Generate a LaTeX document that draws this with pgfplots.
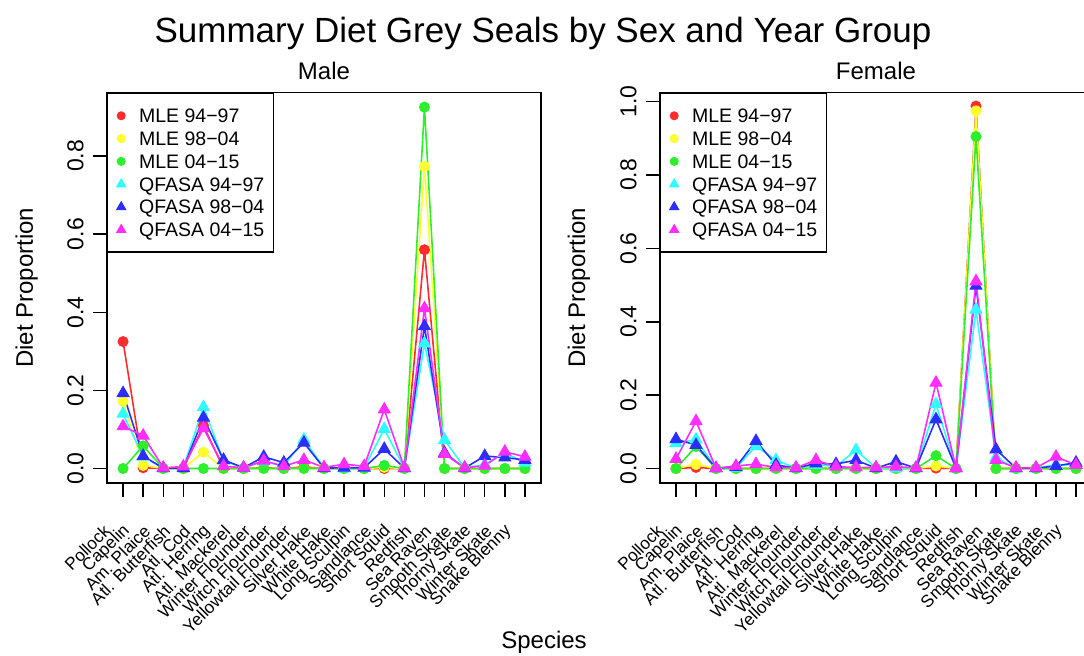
\documentclass[border=0pt]{standalone}
\usepackage{pgfplots}
\pgfplotsset{compat=1.18}
\usepackage{pgfplotstable}
\usepackage{fontspec}
\setmainfont{Liberation Sans}

\definecolor{cRed}{RGB}{255,45,45}
\definecolor{cYel}{RGB}{255,255,45}
\definecolor{cGrn}{RGB}{45,240,45}
\definecolor{cCya}{RGB}{45,255,255}
\definecolor{cBlu}{RGB}{45,45,255}
\definecolor{cMag}{RGB}{255,45,255}

% Diet proportions per prey species (x = species index)
% m1..m3: MLE 94-97, 98-04, 04-15; q1..q3: QFASA 94-97, 98-04, 04-15
\pgfplotstableread{
x  m1    m2    m3    q1    q2    q3
0  0.325 0.172 0.000 0.140 0.193 0.108
1  0.002 0.008 0.058 0.030 0.032 0.084
2  0.000 0.000 0.000 0.001 0.001 0.002
3  0.000 0.000 0.000 0.002 0.001 0.005
4  0.110 0.042 0.000 0.157 0.130 0.103
5  0.000 0.000 0.000 0.020 0.022 0.006
6  0.000 0.000 0.000 0.002 0.002 0.002
7  0.002 0.000 0.000 0.018 0.030 0.020
8  0.000 0.000 0.000 0.006 0.015 0.006
9  0.004 0.000 0.000 0.074 0.066 0.022
10 0.000 0.000 0.000 0.002 0.001 0.003
11 0.000 0.000 0.000 0.000 0.002 0.011
12 0.000 0.000 0.000 0.002 0.002 0.006
13 0.000 0.003 0.008 0.101 0.050 0.151
14 0.000 0.000 0.000 0.001 0.001 0.002
15 0.560 0.773 0.925 0.320 0.364 0.410
16 0.000 0.000 0.000 0.073 0.040 0.037
17 0.000 0.000 0.000 0.002 0.001 0.002
18 0.000 0.000 0.000 0.010 0.032 0.007
19 0.000 0.000 0.000 0.040 0.028 0.043
20 0.000 0.000 0.000 0.015 0.022 0.030
}\male

\pgfplotstableread{
x  m1    m2    m3    q1    q2    q3
0  0.000 0.000 0.000 0.069 0.080 0.026
1  0.003 0.011 0.060 0.079 0.064 0.129
2  0.000 0.000 0.000 0.001 0.001 0.001
3  0.000 0.000 0.000 0.002 0.004 0.007
4  0.000 0.000 0.000 0.061 0.075 0.012
5  0.000 0.000 0.000 0.023 0.010 0.003
6  0.000 0.000 0.000 0.001 0.001 0.002
7  0.000 0.000 0.000 0.010 0.014 0.023
8  0.000 0.000 0.000 0.006 0.012 0.005
9  0.000 0.000 0.000 0.050 0.023 0.003
10 0.000 0.000 0.000 0.002 0.001 0.003
11 0.000 0.000 0.000 0.000 0.019 0.005
12 0.000 0.000 0.000 0.001 0.001 0.002
13 0.001 0.007 0.035 0.175 0.134 0.234
14 0.000 0.000 0.000 0.001 0.001 0.001
15 0.988 0.975 0.905 0.433 0.498 0.510
16 0.000 0.000 0.000 0.030 0.052 0.023
17 0.000 0.000 0.000 0.000 0.001 0.002
18 0.000 0.000 0.000 0.001 0.001 0.002
19 0.000 0.000 0.000 0.010 0.007 0.032
20 0.000 0.000 0.000 0.010 0.016 0.010
}\female

\pgfplotsset{
  mle/.style={line width=0.8pt, mark=*, mark size=2.5pt,
    mark options={line width=0.5pt},
    legend image code/.code={\draw[##1, mark size=2pt] plot coordinates {(0pt,0pt)};}},
  qf/.style={line width=0.8pt, mark=triangle*, mark size=3.4pt,
    mark options={line width=0.5pt},
    legend image code/.code={\draw[##1, mark size=2.6pt] plot coordinates {(0pt,0pt)};}},
  panel/.style={
    scale only axis, height=195.15pt,
    xmin=-0.8, xmax=20.8,
    axis line style={line width=0.75pt},
    tick align=outside, tick pos=left, major tick length=7pt,
    every tick/.style={black, line width=0.75pt},
    xtick={0,...,20},
    xticklabels={Pollock, Capelin, Am. Plaice, Atl. Butterfish, Atl. Cod,
      Atl. Herring, Atl. Mackerel, Winter Flounder, Witch Flounder,
      Yellowtail Flounder, Silver Hake, White Hake, Long Sculpin, Sandlance,
      Short Squid, Redfish, Sea Raven, Smooth Skate, Thorny Skate,
      Winter Skate, Snake Blenny},
    xticklabel style={font=\fontsize{8.6}{10}\selectfont, inner sep=0pt,
      xshift=-8pt, yshift=-15.5pt, rotate=45, anchor=east},
    yticklabel style={font=\fontsize{11.5}{13}\selectfont, inner sep=0pt,
      xshift=-4.5pt, rotate=90, anchor=south},
    ylabel={Diet Proportion},
    ylabel style={font=\fontsize{12}{14}\selectfont, anchor=base},
    every axis title shift=0pt,
    title style={at={(0.5,1)}, anchor=base, yshift=6.35pt,
      font=\fontsize{12}{14}\selectfont},
    legend style={at={(0,1)}, anchor=north west, draw=black,
      line width=0.7pt, fill=white,
      inner xsep=4.5pt, inner ysep=7.7pt, row sep=4.4pt, column sep=6.7pt,
      font=\fontsize{9.75}{11}\selectfont,
      nodes={inner sep=0pt, text height=7pt, text depth=0pt}},
    legend cell align=left,
  }
}

\begin{document}
\begin{tikzpicture}
\begin{axis}[panel, at={(53.5pt,86.5pt)}, anchor=south west, width=217pt,
  ymin=-0.037, ymax=0.962,
  ytick={0,0.2,0.4,0.6,0.8}, yticklabels={0.0,0.2,0.4,0.6,0.8},
  ylabel style={at={(axis description cs:-0.1705,0.5)}},
  title={Male}]
\addplot[mle, color=cRed] table[x=x, y=m1] {\male};
\addlegendentry{MLE 94−97}
\addplot[mle, color=cYel] table[x=x, y=m2] {\male};
\addlegendentry{MLE 98−04}
\addplot[mle, color=cGrn] table[x=x, y=m3] {\male};
\addlegendentry{MLE 04−15}
\addplot[qf, color=cCya] table[x=x, y=q1] {\male};
\addlegendentry{QFASA 94−97}
\addplot[qf, color=cBlu] table[x=x, y=q2] {\male};
\addlegendentry{QFASA 98−04}
\addplot[qf, color=cMag] table[x=x, y=q3] {\male};
\addlegendentry{QFASA 04−15}
\end{axis}

\begin{axis}[panel, at={(330pt,86.5pt)}, anchor=south west, width=216pt,
  ymin=-0.0394, ymax=1.0244,
  ytick={0,0.2,0.4,0.6,0.8,1}, yticklabels={0.0,0.2,0.4,0.6,0.8,1.0},
  ylabel style={at={(axis description cs:-0.1736,0.5)}},
  title={Female}]
\addplot[mle, color=cRed] table[x=x, y=m1] {\female};
\addlegendentry{MLE 94−97}
\addplot[mle, color=cYel] table[x=x, y=m2] {\female};
\addlegendentry{MLE 98−04}
\addplot[mle, color=cGrn] table[x=x, y=m3] {\female};
\addlegendentry{MLE 04−15}
\addplot[qf, color=cCya] table[x=x, y=q1] {\female};
\addlegendentry{QFASA 94−97}
\addplot[qf, color=cBlu] table[x=x, y=q2] {\female};
\addlegendentry{QFASA 98−04}
\addplot[qf, color=cMag] table[x=x, y=q3] {\female};
\addlegendentry{QFASA 04−15}
\end{axis}

\node[anchor=base, font=\fontsize{17.5}{21}\selectfont] at (271.5pt,306.5pt)
  {Summary Diet Grey Seals by Sex and Year Group};
\node[anchor=base, font=\fontsize{12}{14}\selectfont] at (272pt,3.5pt) {Species};

\pgfresetboundingbox
\path[use as bounding box] (0pt,0pt) rectangle (542pt,328pt);
\end{tikzpicture}
\end{document}
